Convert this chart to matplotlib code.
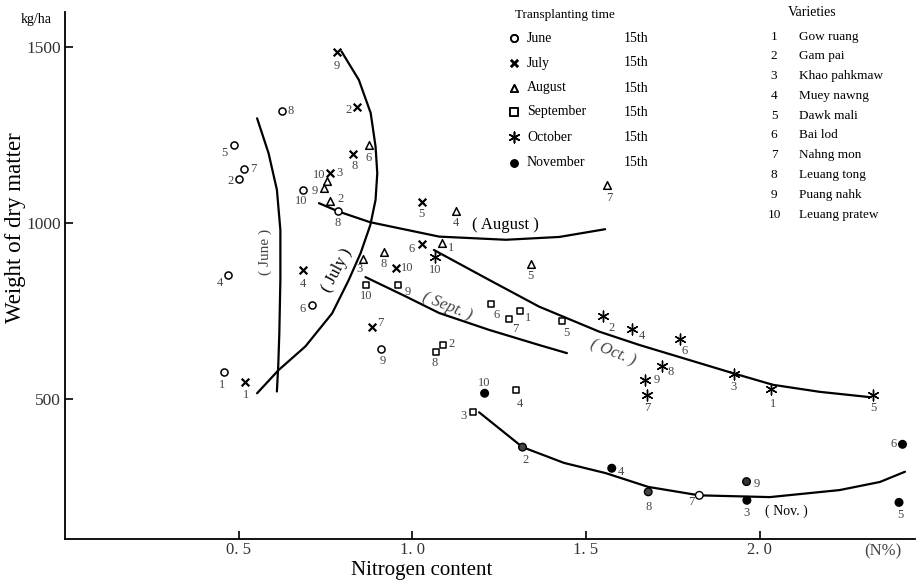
import matplotlib
matplotlib.use("Agg")
import matplotlib.pyplot as plt

plt.rcParams['font.family'] = ['Liberation Serif', 'DejaVu Serif']

# --- data: nitrogen content (N%) and dry matter (kg/ha) ---
june_n = [0.457, 0.500, 0.469, 0.486, 0.711, 0.516, 0.624, 0.910, 0.685, 0.786]
june_w = [576, 1124, 853, 1221, 767, 1154, 1317, 641, 1094, 1034]
june_v = ['1', '2', '4', '5', '6', '7', '8', '9', '10', '8']

july_n = [0.519, 0.842, 0.764, 0.685, 1.027, 1.027, 0.884, 0.828, 0.782, 0.954]
july_w = [547, 1330, 1142, 866, 1059, 941, 703, 1196, 1485, 871]
july_v = ['1', '2', '3', '4', '5', '6', '7', '8', '9', '10']

aug_n = [1.086, 0.764, 0.857, 1.125, 1.341, 0.875, 1.560, 0.918, 0.746, 0.754]
aug_w = [942, 1062, 896, 1034, 883, 1220, 1107, 918, 1100, 1118]
aug_v = ['1', '2', '3', '4', '5', '6', '7', '8', '9', '10']

sep_n = [1.310, 1.087, 1.174, 1.299, 1.431, 1.227, 1.277, 1.069, 0.960, 0.867]
sep_w = [750, 653, 462, 525, 722, 769, 726, 634, 824, 823]
sep_v = ['1', '2', '3', '4', '5', '6', '7', '8', '9', '10']

oct_n = [2.033, 1.548, 1.925, 1.632, 2.326, 1.771, 1.676, 1.719, 1.669, 1.065]
oct_w = [527, 736, 572, 698, 511, 670, 510, 594, 554, 903]
oct_v = ['1', '2', '3', '4', '5', '6', '7', '8', '9', '10']

nov_n = [1.208, 1.317, 1.963, 1.574, 2.401, 2.411, 1.826, 1.679, 1.962]
nov_w = [516, 363, 212, 303, 206, 371, 226, 236, 265]
nov_v = ['10', '2', '3', '4', '5', '6', '7', '8', '9']

# hand-drawn trend curves
june_curve_n = [0.553, 0.586, 0.610, 0.620, 0.620, 0.617, 0.614, 0.610]
june_curve_w = [1297, 1198, 1094, 980, 838, 687, 597, 521]
july_curve_n = [0.796, 0.846, 0.880, 0.894, 0.899, 0.894, 0.879, 0.851, 0.817, 0.769, 0.692, 0.615, 0.553]
july_curve_w = [1487, 1406, 1312, 1217, 1141, 1065, 994, 914, 838, 743, 649, 582, 516]
aug_curve_n = [0.731, 0.788, 0.878, 1.077, 1.269, 1.423, 1.555]
aug_curve_w = [1056, 1032, 1002, 961, 952, 960, 982]
sep_curve_n = [0.865, 0.981, 1.077, 1.221, 1.365, 1.445]
sep_curve_w = [846, 791, 744, 696, 653, 630]
oct_curve_n = [1.062, 1.221, 1.365, 1.538, 1.654, 1.923, 2.038, 2.173, 2.317]
oct_curve_w = [923, 838, 762, 691, 653, 573, 540, 520, 505]
nov_curve_n = [1.192, 1.317, 1.437, 1.557, 1.679, 1.826, 2.029, 2.230, 2.346, 2.418]
nov_curve_w = [462, 363, 318, 289, 250, 226, 221, 241, 264, 293]

xticks = [0.5, 1.0, 1.5, 2.0]
xtick_labels = ['0. 5', '1. 0', '1. 5', '2. 0']
yticks = [500, 1000, 1500]

months = ['June', 'July', 'August', 'September', 'October', 'November']
varieties = ['Gow ruang', 'Gam pai', 'Khao pahkmaw', 'Muey nawng', 'Dawk mali',
             'Bai lod', 'Nahng mon', 'Leuang tong', 'Puang nahk', 'Leuang pratew']

# label offsets (pixels) of the variety numbers next to each point
june_off = [(-2, -13), (-8, -2), (-8, -8), (-9, -8), (-9, -4), (9, 0), (9, 0), (2, -12), (-2, -11), (0, -12)]
july_off = [(1, -13), (-9, -3), (9, 0), (0, -14), (0, -12), (-10, -5), (8, 4), (2, -12), (0, -14), (11, 0)]
aug_off = [(9, -5), (10, 2), (-3, -10), (0, -12), (0, -12), (0, -13), (2, -13), (0, -12), (-9, -3), (-8, 6)]
sep_off = [(8, -7), (9, 1), (-9, -4), (4, -14), (4, -12), (5, -11), (7, -10), (-2, -11), (9, -7), (0, -11)]
oct_off = [(2, -15), (9, -12), (0, -13), (10, -7), (0, -13), (4, -12), (0, -13), (9, -6), (12, 0), (0, -13)]
nov_off = [(0, 10), (3, -13), (0, -13), (9, -4), (1, -13), (-9, 0), (-8, -7), (0, -15), (10, -2)]
nov_face = ['k', '#444444', 'k', 'k', 'k', 'k', 'white', '#444444', '#333333']

fig = plt.figure(figsize=(9.18, 5.82), dpi=100)
ax = fig.add_axes([65 / 918, 1 - 539 / 582, 850 / 918, 527 / 582])
ax.set_xlim(0, 2.447)
ax.set_ylim(102, 1599)

for s in ['top', 'right']:
    ax.spines[s].set_visible(False)
for s in ['left', 'bottom']:
    ax.spines[s].set_linewidth(1.3)

lab_col = '#444444'


def put_labels(xs, ys, vs, offs):
    for x, y, v, o in zip(xs, ys, vs, offs):
        ax.annotate(v, (x, y), xytext=o, textcoords='offset pixels',
                    ha='center', va='center', fontsize=9, color=lab_col)


ax.scatter(june_n, june_w, marker='o', s=26, facecolors='white', edgecolors='k', linewidths=1.1, zorder=3)
ax.scatter(july_n, july_w, marker='x', s=30, c='k', linewidths=1.6, zorder=3)
ax.scatter(aug_n, aug_w, marker='^', s=30, facecolors='white', edgecolors='k', linewidths=1.1, zorder=3)
ax.scatter(sep_n, sep_w, marker='s', s=24, facecolors='white', edgecolors='k', linewidths=1.1, zorder=3)
ax.scatter(oct_n, oct_w, marker=(6, 2, 0), s=60, c='k', linewidths=1.0, zorder=3)
ax.scatter(nov_n, nov_w, marker='o', s=30, facecolors=nov_face, edgecolors='k', linewidths=1.0, zorder=3)

put_labels(june_n, june_w, june_v, june_off)
put_labels(july_n, july_w, july_v, july_off)
put_labels(aug_n, aug_w, aug_v, aug_off)
put_labels(sep_n, sep_w, sep_v, sep_off)
put_labels(oct_n, oct_w, oct_v, oct_off)
put_labels(nov_n, nov_w, nov_v, nov_off)

for cx, cy in [(june_curve_n, june_curve_w), (july_curve_n, july_curve_w),
               (aug_curve_n, aug_curve_w), (sep_curve_n, sep_curve_w),
               (oct_curve_n, oct_curve_w), (nov_curve_n, nov_curve_w)]:
    ax.plot(cx, cy, color='k', lw=1.6, solid_capstyle='round', zorder=2)

# curve names
ax.text(0.577, 918, '( June )', rotation=90, ha='center', va='center', fontsize=11, color=lab_col)
ax.text(0.783, 866, '( July )', rotation=62, ha='center', va='center', fontsize=12, color='k')
ax.text(1.269, 994, '( August )', ha='center', va='center', fontsize=12)
ax.text(1.101, 762, '( Sept. )', rotation=-22, ha='center', va='center', fontsize=12, style='italic', color=lab_col)
ax.text(1.577, 632, '( Oct. )', rotation=-22, ha='center', va='center', fontsize=12, style='italic', color=lab_col)
ax.text(2.077, 182, '( Nov. )', ha='center', va='center', fontsize=10)
ax.text(0.9625, -0.008, '(N%)', transform=ax.transAxes, ha='center', va='top', fontsize=12, color=lab_col)

ax.set_xticks(xticks)
ax.set_xticklabels(xtick_labels, fontsize=12, color='#333333')
ax.set_yticks(yticks)
ax.set_yticklabels([str(t) for t in yticks], fontsize=12.5, color='#333333')
ax.tick_params(direction='in', length=6, width=1.2)
ax.tick_params(axis='x', pad=2)
ax.tick_params(axis='y', pad=3)

# axis titles placed where the original has them
fig.text(422 / 918, 1 - 571 / 582, 'Nitrogen content', ha='center', va='center', fontsize=15)
fig.text(16 / 918, 1 - 228 / 582, 'Weight of dry matter', rotation=90, ha='center', va='center', fontsize=16.5)
fig.text(36 / 918, 1 - 20 / 582, 'kg/ha', ha='center', va='center', fontsize=10)

# legend: transplanting time
fig.text(515 / 918, 1 - 15 / 582, 'Transplanting time', ha='left', va='center', fontsize=9.5)
leg_markers = [dict(marker='o', facecolors='white', edgecolors='k', linewidths=1.3),
               dict(marker='x', c='k', linewidths=1.8),
               dict(marker='^', facecolors='white', edgecolors='k', linewidths=1.3),
               dict(marker='s', facecolors='white', edgecolors='k', linewidths=1.3),
               dict(marker=(6, 2, 0), c='k', linewidths=1.0),
               dict(marker='o', c='k', linewidths=1.0)]
leg_rows = [38, 63, 88, 112, 137, 163]
for m, row, kw in zip(months, leg_rows, leg_markers):
    yy = 1 - row / 582
    sz = 60 if kw['marker'] == (6, 2, 0) else 26
    fig.add_artist(plt.scatter([514 / 918], [yy], s=sz, transform=fig.transFigure, clip_on=False, **kw))
    fig.text(527 / 918, yy, m, ha='left', va='center', fontsize=10)
    fig.text(624 / 918, yy, '15th', ha='left', va='center', fontsize=10)

# legend: varieties
fig.text(788 / 918, 1 - 12 / 582, 'Varieties', ha='left', va='center', fontsize=10)
var_rows = [37, 56, 76, 96, 116, 135, 155, 175, 195, 215]
for i, (name, row) in enumerate(zip(varieties, var_rows)):
    yy = 1 - row / 582
    fig.text(774 / 918, yy, str(i + 1), ha='center', va='center', fontsize=9.5)
    fig.text(799 / 918, yy, name, ha='left', va='center', fontsize=9.5)

fig.savefig('out.png', dpi=100)
